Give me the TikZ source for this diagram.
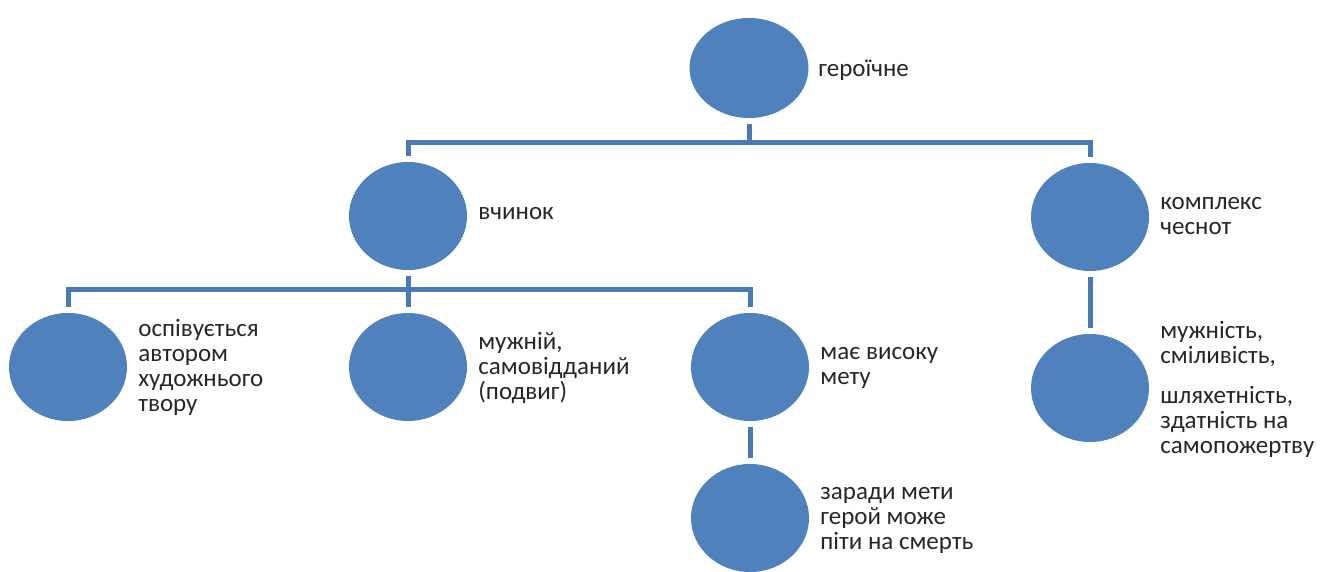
\documentclass[tikz,border=0pt]{standalone}
\usepackage{fontspec}
\setmainfont{Carlito}
\usetikzlibrary{shapes.geometric}
\definecolor{circfill}{HTML}{4F81BD}
\definecolor{linecol}{HTML}{4A7AB5}
\definecolor{txtcol}{HTML}{262626}
\begin{document}
\begin{tikzpicture}[x=0.5pt,y=-0.5pt,
  circ/.style={ellipse, fill=circfill, draw=none, inner sep=0pt, minimum width=59pt, minimum height=54pt},
  lbl/.style={anchor=west, align=left, inner sep=0pt, text=txtcol, font=\fontsize{12.5}{12.5}\selectfont},
  conn/.style={draw=linecol, line width=2.5pt, line join=miter, shorten <=3pt, shorten >=3pt}]
\useasboundingbox (0,0) rectangle (1333,572);
% circles
\node[circ, minimum height=50pt, minimum width=59.5pt] (top) at (749,68) {};
\node[circ] (vch) at (408,216) {};
\node[circ] (kom) at (1090,217) {};
\node[circ] (osp) at (68,367) {};
\node[circ] (muz) at (408,367) {};
\node[circ] (mae) at (750,367) {};
\node[circ] (zar) at (750,518) {};
\node[circ] (mch) at (1090,388) {};
% labels
\node[lbl] (ltop) at (818,70) {героїчне};
\node[lbl] (lvch) at (478,214) {вчинок};
\node[lbl] (lkom) at (1160,216) {комплекс\\чеснот};
\node[lbl] (losp) at (138,367) {оспівується\\автором\\художнього\\твору};
\node[lbl] (lmuz) at (478,368) {мужній,\\самовідданий\\(подвиг)};
\node[lbl] (lmae) at (820,368) {має високу\\мету};
\node[lbl] (lzar) at (820,520) {заради мети\\герой може\\піти на смерть};
\node[lbl] (lmch) at (1160,389) {мужність,\\сміливість,\\[7.5pt]шляхетність,\\здатність на\\самопожертву};
% junctions
\coordinate (j1) at (749,143);
\coordinate (j2) at (408,290);
% connectors
\draw[conn, shorten >=0pt] (top) -- (j1);
\draw[conn] (vch) -- (vch |- j1) -- (kom |- j1) -- (kom);
\draw[conn, shorten >=0pt] (vch) -- (j2);
\draw[conn] (osp) -- (osp |- j2) -- (mae |- j2) -- (mae);
\draw[conn, shorten <=0pt] (j2) -- (muz);
\draw[conn] (mae) -- (zar);
\draw[conn] (kom) -- (mch);
\end{tikzpicture}
\end{document}
